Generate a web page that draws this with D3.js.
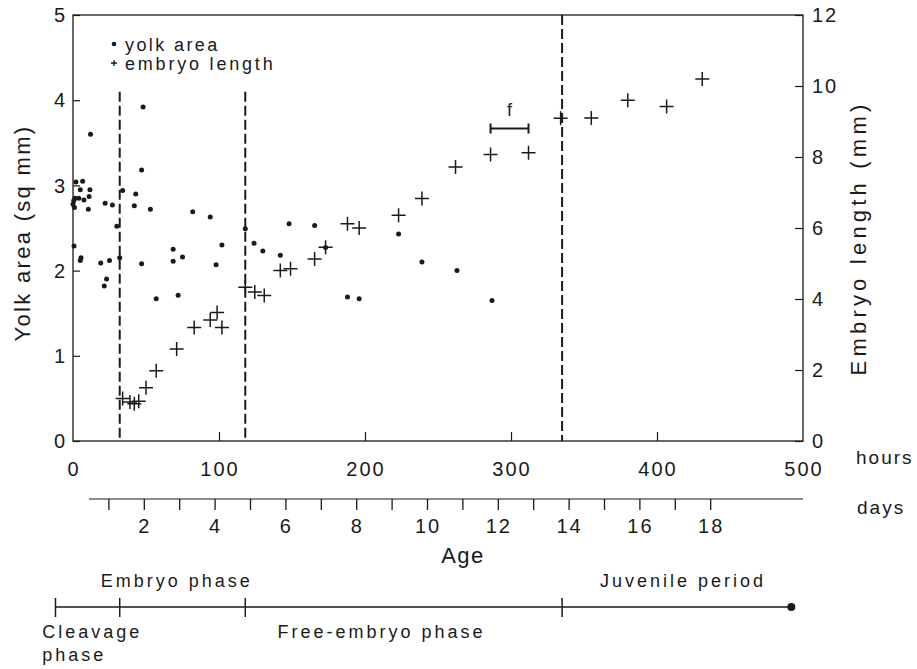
<!DOCTYPE html>
<html>
<head>
<meta charset="utf-8">
<script src="https://cdn.jsdelivr.net/npm/d3@7"></script>
<style>
  html, body { margin: 0; padding: 0; background: #fff; }
  svg { display: block; }
  text { font-family: "Liberation Sans", Arial, sans-serif; fill: #1a1a1a; }
</style>
</head>
<body>
<svg id="chart" width="917" height="669"></svg>
<script>
// ---------------- DATA ----------------
const hourTicks = [0, 100, 200, 300, 400, 500];
const yolkTicks = [0, 1, 2, 3, 4, 5];
const lengthTicks = [0, 2, 4, 6, 8, 10, 12];
const dayTicks = d3.range(1, 19);
const dayLabels = [2, 4, 6, 8, 10, 12, 14, 16, 18];

// yolk area (sq mm) vs age (hours)
const yolkHours = [0, 0.5, 1, 1.4, 2, 4, 5, 6.6, 7.5, 10.5, 11, 11.6, 12, 0.7, 5, 5.5,
  19, 21.4, 22, 23, 25, 27, 30, 32, 34, 42, 43, 47, 47, 48, 53, 57, 68.6, 68.6, 72, 75,
  82, 94, 98, 102, 118, 124, 130, 142, 148, 165.5, 173, 188, 196, 223, 239, 263, 287];
const yolkArea = [2.78, 2.82, 2.74, 2.85, 3.04, 2.85, 2.95, 3.05, 2.83, 2.72, 2.87, 2.95, 3.6, 2.29, 2.12, 2.15,
  2.09, 1.82, 2.79, 1.90, 2.12, 2.77, 2.52, 2.15, 2.94, 2.76, 2.90, 3.18, 2.08, 3.92, 2.72, 1.67, 2.25, 2.11, 1.71, 2.16,
  2.69, 2.63, 2.07, 2.30, 2.49, 2.32, 2.23, 2.18, 2.55, 2.53, 2.27, 1.69, 1.67, 2.43, 2.10, 2.00, 1.65];

// embryo length (mm) vs age (hours)
const lengthHours = [34, 39, 42, 45, 50, 57, 71, 83, 94, 98.7, 102, 118, 124.5, 131, 142, 149,
  165.5, 173, 188, 196, 223, 239, 262, 286, 312, 334, 355, 380, 406.6, 431];
const lengthMM = [1.2, 1.1, 1.05, 1.12, 1.5, 1.98, 2.59, 3.2, 3.41, 3.62, 3.2, 4.33, 4.2, 4.1, 4.8, 4.85,
  5.13, 5.46, 6.12, 6.0, 6.36, 6.83, 7.72, 8.07, 8.12, 9.09, 9.1, 9.6, 9.42, 10.2];

// phase boundaries (hours) drawn as dashed lines
const phaseHours = [32, 118, 335];
const phaseTop = [4.1, 4.1, 5];         // top of each dashed line, in yolk-area units

// error bar "f"
const errFrom = 286, errTo = 312, errLen = 8.8, errLabel = "f";

// bottom life-history timeline (hours positions)
const timelineTicks = [-12, 32, 118, 335];
const timelineEnd = 492;
const upperPhases = [{label: "Embryo phase", at: 19}, {label: "Juvenile period", at: 361}];
const lowerPhases = [{label: ["Cleavage", "phase"], at: -21}, {label: ["Free-embryo phase"], at: 140}];

// ---------------- CHART ----------------
const svg = d3.select("#chart");
const x = d3.scaleLinear().domain([0, 500]).range([73, 803]);
const yL = d3.scaleLinear().domain([0, 5]).range([441, 15]);
const yR = d3.scaleLinear().domain([0, 12]).range([441, 15]);
const xDay = d3.scaleLinear().domain([0, 20]).range([x(0), x(0) + 708]);

const ink = "#1a1a1a";
const numFont = 20, numSp = 2;

// frame
svg.append("rect").attr("x", x(0)).attr("y", yL(5))
  .attr("width", x(500) - x(0)).attr("height", yL(0) - yL(5))
  .attr("fill", "none").attr("stroke", ink).attr("stroke-width", 1.3);

// left axis
const leftAxis = d3.axisRight(yL).tickValues(yolkTicks).tickSize(7).tickFormat("");
const gl = svg.append("g").attr("transform", `translate(${x(0)},0)`).call(leftAxis);
gl.select(".domain").remove();
gl.selectAll("line").attr("stroke", ink).attr("stroke-width", 1.2);
svg.append("g").selectAll("text").data(yolkTicks).join("text")
  .attr("x", x(0) - 8 + numSp).attr("y", d => yL(d)).attr("dy", "0.36em")
  .attr("text-anchor", "end").attr("font-size", numFont).attr("letter-spacing", numSp).text(d => d);

// right axis
const rightAxis = d3.axisLeft(yR).tickValues(lengthTicks).tickSize(8).tickFormat("");
const gr = svg.append("g").attr("transform", `translate(${x(500)},0)`).call(rightAxis);
gr.select(".domain").remove();
gr.selectAll("line").attr("stroke", ink).attr("stroke-width", 1.2);
svg.append("g").selectAll("text").data(lengthTicks).join("text")
  .attr("x", x(500) + 9).attr("y", d => yR(d)).attr("dy", "0.36em")
  .attr("text-anchor", "start").attr("font-size", numFont).attr("letter-spacing", numSp).text(d => d);

// bottom (hours) axis
const bottomAxis = d3.axisTop(x).tickValues(hourTicks.slice(1, -1)).tickSize(9).tickFormat("");
const gb = svg.append("g").attr("transform", `translate(0,${yL(0)})`).call(bottomAxis);
gb.select(".domain").remove();
gb.selectAll("line").attr("stroke", ink).attr("stroke-width", 1.2);
svg.append("g").selectAll("text").data(hourTicks).join("text")
  .attr("x", d => x(d) + numSp / 2).attr("y", yL(0) + 35).attr("text-anchor", "middle")
  .attr("font-size", numFont).attr("letter-spacing", numSp).text(d => d);
svg.append("text").attr("x", 856).attr("y", 464).attr("font-size", 19)
  .attr("letter-spacing", 2).text("hours");

// days axis
const dayY = 499;
const dayAxis = d3.axisBottom(xDay).tickValues(dayTicks).tickSize(11).tickFormat("");
const gd = svg.append("g").attr("transform", `translate(0,${dayY})`).call(dayAxis);
gd.select(".domain").remove();
gd.selectAll("line").attr("stroke", ink).attr("stroke-width", 1.3);
svg.append("line").attr("x1", xDay(0.45)).attr("x2", x(500)).attr("y1", dayY).attr("y2", dayY)
  .attr("stroke", ink).attr("stroke-width", 1.2);
svg.append("g").selectAll("text").data(dayLabels).join("text")
  .attr("x", d => xDay(d) + numSp / 2).attr("y", dayY + 34).attr("text-anchor", "middle")
  .attr("font-size", numFont).attr("letter-spacing", numSp).text(d => d);
svg.append("text").attr("x", 857).attr("y", 514).attr("font-size", 19)
  .attr("letter-spacing", 2).text("days");

svg.append("text").attr("x", 463).attr("y", 563).attr("text-anchor", "middle")
  .attr("font-size", 22).attr("letter-spacing", 1.5).text("Age");

// axis titles
svg.append("text").attr("transform", `translate(30,${233}) rotate(-90)`)
  .attr("text-anchor", "middle").attr("font-size", 22).attr("letter-spacing", 2.3)
  .text("Yolk area (sq mm)");
svg.append("text").attr("transform", `translate(866,${238}) rotate(-90)`)
  .attr("text-anchor", "middle").attr("font-size", 22).attr("letter-spacing", 4.2)
  .text("Embryo length (mm)");

// dashed phase lines
svg.append("g").selectAll("line").data(phaseHours).join("line")
  .attr("x1", d => x(d)).attr("x2", d => x(d))
  .attr("y1", (d, i) => yL(phaseTop[i])).attr("y2", yL(0))
  .attr("stroke", ink).attr("stroke-width", 2).attr("stroke-dasharray", "10,4");

// yolk dots
const yolk = yolkHours.map((h, i) => ({h, v: yolkArea[i]}));
svg.append("g").selectAll("circle").data(yolk).join("circle")
  .attr("cx", d => x(d.h)).attr("cy", d => yL(d.v)).attr("r", 2.5).attr("fill", ink);

// embryo crosses
const lens = lengthHours.map((h, i) => ({h, v: lengthMM[i]}));
const arm = 7;
const cg = svg.append("g").attr("stroke", ink).attr("stroke-width", 1.5);
cg.selectAll("path").data(lens).join("path")
  .attr("d", d => {
    const cx = x(d.h), cy = yR(d.v);
    return `M${cx - arm},${cy}H${cx + arm}M${cx},${cy - arm}V${cy + arm}`;
  });

// error bar f
const ey = yR(errLen);
svg.append("path")
  .attr("d", `M${x(errFrom)},${ey}H${x(errTo)}M${x(errFrom)},${ey - 5}V${ey + 5}M${x(errTo)},${ey - 5}V${ey + 5}`)
  .attr("stroke", ink).attr("stroke-width", 2).attr("fill", "none");
svg.append("text").attr("x", (x(errFrom) + x(errTo)) / 2).attr("y", ey - 13)
  .attr("text-anchor", "middle").attr("font-size", 18).text(errLabel);

// legend
svg.append("circle").attr("cx", 114).attr("cy", 44).attr("r", 2.3).attr("fill", ink);
svg.append("text").attr("x", 125).attr("y", 51).attr("font-size", 18).attr("letter-spacing", 2.4).text("yolk area");
svg.append("path").attr("d", "M111,63H117M114,60V66").attr("stroke", ink).attr("stroke-width", 1.3);
svg.append("text").attr("x", 125).attr("y", 70).attr("font-size", 18).attr("letter-spacing", 2.8).text("embryo length");

// bottom timeline
const tlY = 607;
svg.append("line").attr("x1", x(timelineTicks[0])).attr("x2", x(timelineEnd))
  .attr("y1", tlY).attr("y2", tlY).attr("stroke", ink).attr("stroke-width", 1.3);
svg.append("g").selectAll("line").data(timelineTicks).join("line")
  .attr("x1", d => x(d)).attr("x2", d => x(d))
  .attr("y1", tlY - 9).attr("y2", tlY + 10).attr("stroke", ink).attr("stroke-width", 1.5);
svg.append("circle").attr("cx", x(timelineEnd)).attr("cy", tlY).attr("r", 4).attr("fill", ink);
svg.append("g").selectAll("text").data(upperPhases).join("text")
  .attr("x", d => x(d.at)).attr("y", tlY - 20).attr("font-size", 18).attr("letter-spacing", 3)
  .text(d => d.label);
lowerPhases.forEach(p => {
  p.label.forEach((t, j) => {
    svg.append("text").attr("x", x(p.at)).attr("y", tlY + 31 + j * 23)
      .attr("font-size", 18).attr("letter-spacing", 3).text(t);
  });
});
</script>
</body>
</html>
